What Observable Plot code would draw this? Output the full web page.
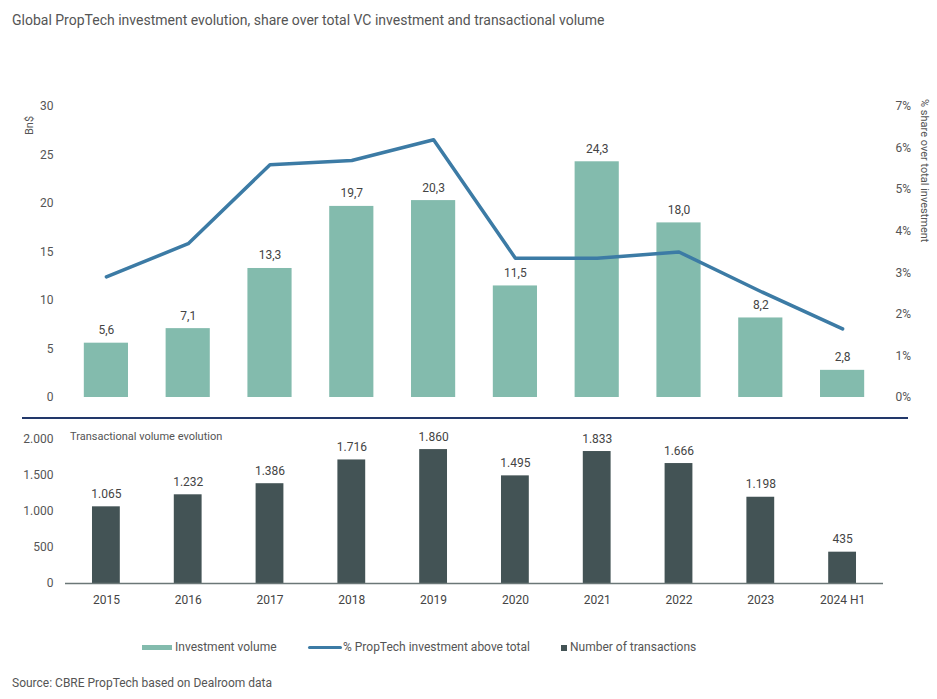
<!DOCTYPE html>
<html>
<head>
<meta charset="utf-8">
<script src="https://cdn.jsdelivr.net/npm/d3@7"></script>
<script src="https://cdn.jsdelivr.net/npm/@observablehq/plot@0.6"></script>
<style>
  html, body { margin:0; padding:0; background:#fff; }
  body { width:937px; height:699px; position:relative; overflow:hidden; font-family: Roboto, "Noto Sans", sans-serif; color:#555; }
  .abs { position:absolute; white-space:nowrap; }
  #title { left:12px; top:12px; font-size:14px; color:#555; }
  #topChart { left:0; top:90px; }
  #bottomChart { left:0; top:410px; }
  #divider { left:22px; top:417px; width:886px; height:2px; background:#22386a; }
  #sub { left:70px; top:430px; font-size:11px; color:#555; }
  #bn { left:23px; top:111px; font-size:11px; transform-origin:0 0; transform: rotate(-90deg) translate(-24px,0); }
  #share { left:931px; top:99px; font-size:11px; transform-origin:0 0; transform: rotate(90deg); }
  #legend { left:0; top:639px; width:937px; font-size:12px; color:#555; }
  .li { position:absolute; top:0; height:16px; line-height:16px; }
  .sw { position:absolute; }
  #source { left:12px; top:676px; font-size:12px; color:#555; }
</style>
</head>
<body>
<div id="title" class="abs">Global PropTech investment evolution, share over total VC investment and transactional volume</div>
<div id="topChart" class="abs"></div>
<div id="bottomChart" class="abs"></div>
<div id="divider" class="abs"></div>
<div id="sub" class="abs">Transactional volume evolution</div>
<div id="bn" class="abs">Bn$</div>
<div id="share" class="abs">% share over total investment</div>
<div id="legend" class="abs">
  <div class="sw" style="left:142px;top:6px;width:30px;height:5px;background:#83BBAD"></div>
  <div class="li" style="left:175px">Investment volume</div>
  <div class="sw" style="left:308px;top:7px;width:34px;height:3px;background:#3C7BA5;border-radius:2px"></div>
  <div class="li" style="left:343px">% PropTech investment above total</div>
  <div class="sw" style="left:561px;top:6px;width:6px;height:6px;background:#435355"></div>
  <div class="li" style="left:570px">Number of transactions</div>
</div>
<div id="source" class="abs">Source: CBRE PropTech based on Dealroom data</div>
<script>
const years = ["2015","2016","2017","2018","2019","2020","2021","2022","2023","2024 H1"];
const investment = [5.6, 7.1, 13.3, 19.7, 20.3, 11.5, 24.3, 18.0, 8.2, 2.8];
const sharePct = [2.9, 3.7, 5.6, 5.7, 6.2, 3.35, 3.35, 3.5, 2.55, 1.65];
const transactions = [1065, 1232, 1386, 1716, 1860, 1495, 1833, 1666, 1198, 435];
const leftTicks = [0, 5, 10, 15, 20, 25, 30];
const rightTicks = [0, 1, 2, 3, 4, 5, 6, 7];
const bottomTicks = [0, 500, 1000, 1500, 2000];

const leftMax = 30, rightMax = 7;
const toLeft = p => p * leftMax / rightMax;
const rows = years.map((y, i) => ({year: y, inv: investment[i], share: sharePct[i], tx: transactions[i]}));
const locale = d3.formatLocale({decimal: ",", thousands: ".", grouping: [3], currency: ["", ""]});
const fmtInt = locale.format(",d");
const fmt1 = locale.format(".1f");

const font = "Roboto, 'Noto Sans', sans-serif";
const textColor = "#555";

const topPlot = Plot.plot({
  width: 937, height: 320,
  marginLeft: 65, marginRight: 54, marginTop: 16, marginBottom: 13,
  x: {domain: years, paddingInner: 0.46, paddingOuter: 0.23, round: false, axis: null},
  y: {domain: [0, leftMax], axis: null},
  style: {fontFamily: font, fontSize: "12px", color: textColor, background: "transparent"},
  marks: [
    Plot.axisY(leftTicks, {anchor: "left", tickSize: 0, tickPadding: 12, label: null, fill: textColor, fontSize: 12}),
    Plot.axisY(rightTicks.map(toLeft), {anchor: "right", tickSize: 0, tickPadding: 12, label: null, fill: textColor, fontSize: 12,
      tickFormat: d => Math.round(d * rightMax / leftMax) + "%"}),
    Plot.barY(rows, {x: "year", y: "inv", fill: "#83BBAD"}),
    Plot.text(rows, {x: "year", y: "inv", text: d => fmt1(d.inv), dy: -9, lineAnchor: "bottom", fill: "#444", fontSize: 12}),
    Plot.lineY(rows, {x: "year", y: d => toLeft(d.share), stroke: "#3C7BA5", strokeWidth: 3.5})
  ]
});
document.getElementById("topChart").append(topPlot);

const bottomPlot = Plot.plot({
  width: 937, height: 210,
  marginLeft: 65, marginRight: 54, marginTop: 29, marginBottom: 37,
  x: {domain: years, paddingInner: 0.66, paddingOuter: 0.33, round: false},
  y: {domain: [0, 2000], axis: null},
  style: {fontFamily: font, fontSize: "12px", color: textColor, background: "transparent"},
  marks: [
    Plot.axisX({tickSize: 0, tickPadding: 12, label: null, fill: "#444", fontSize: 12}),
    Plot.axisY(bottomTicks, {anchor: "left", tickSize: 0, tickPadding: 12, label: null, fill: textColor, fontSize: 12, tickFormat: fmtInt}),
    Plot.barY(rows, {x: "year", y: "tx", fill: "#435355"}),
    Plot.ruleY([0], {stroke: "#6b7777", strokeWidth: 1.5}),
    Plot.text(rows, {x: "year", y: "tx", text: d => fmtInt(d.tx), dy: -9, lineAnchor: "bottom", fill: "#444", fontSize: 12})
  ]
});
document.getElementById("bottomChart").append(bottomPlot);
</script>
</body>
</html>
